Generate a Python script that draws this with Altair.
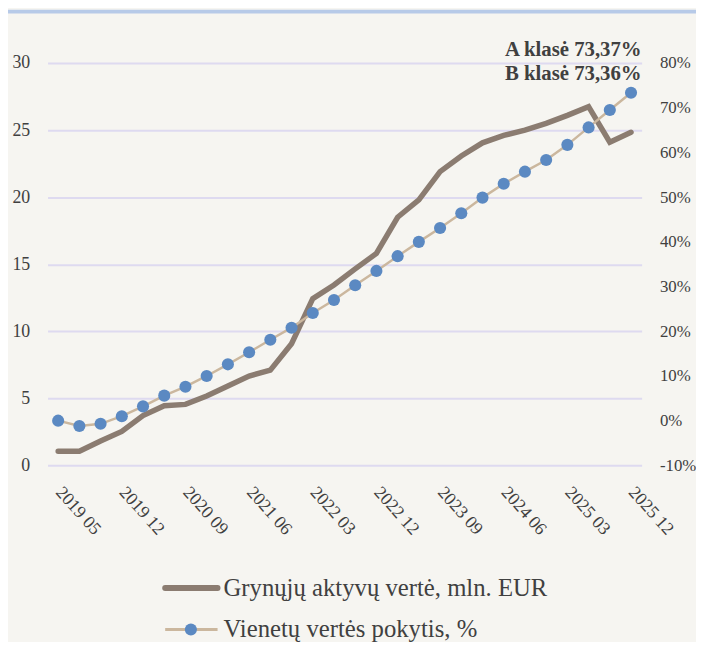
import altair as alt
import pandas as pd

# ---- data ----
periods = ["2019 05", "2019 06", "2019 09", "2019 12",
           "2020 03", "2020 06", "2020 09", "2020 12",
           "2021 03", "2021 06", "2021 09", "2021 12",
           "2022 03", "2022 06", "2022 09", "2022 12",
           "2023 03", "2023 06", "2023 09", "2023 12",
           "2024 03", "2024 06", "2024 09", "2024 12",
           "2025 03", "2025 06", "2025 09", "2025 12"]
tick_labels = ["2019 05", "2019 12", "2020 09", "2021 06", "2022 03",
               "2022 12", "2023 09", "2024 06", "2025 03", "2025 12"]
net_assets = [1.05, 1.05, 1.82, 2.53, 3.71, 4.45, 4.55, 5.18, 5.92, 6.66,
              7.10, 9.07, 12.43, 13.45, 14.65, 15.8, 18.5, 19.8, 21.9, 23.07,
              24.05, 24.6, 25.0, 25.5, 26.1, 26.75, 24.1, 24.84]
unit_change = [0.0, -1.2, -0.7, 1.0, 3.2, 5.6, 7.6, 10.0, 12.6, 15.3,
               18.1, 20.8, 24.1, 27.0, 30.3, 33.5, 36.8, 40.0, 43.1, 46.4,
               49.9, 53.0, 55.7, 58.3, 61.7, 65.6, 69.5, 73.37]
left_ticks = [0, 5, 10, 15, 20, 25, 30]
right_ticks = [-10, 0, 10, 20, 30, 40, 50, 60, 70, 80]
annotation_lines = ["A klasė 73,37%", "B klasė 73,36%"]
legend_labels = ["Grynųjų aktyvų vertė, mln. EUR", "Vienetų vertės pokytis, %"]

# ---- styles ----
BG = "#f6f5f1"
BROWN = "#8b7c71"
TAN = "#cbb79e"
BLUE = "#5b89c2"
GRID = "#dedaf0"
TEXT = "#404040"
TOPLINE = "#b7cae8"
FONT = "Liberation Serif"

W, H = 601, 407

df = pd.DataFrame({"period": periods, "net": net_assets, "pct": unit_change})
one = pd.DataFrame({"k": [0]})

x_axis = alt.Axis(values=tick_labels, labelAngle=48, labelAlign="left",
                  labelBaseline="middle", labelPadding=24, ticks=False,
                  tickSize=0, domain=False, grid=False, title=None,
                  labelFont=FONT, labelFontSize=18, labelColor=TEXT)
x_enc = alt.X("period:O", sort=periods,
              scale=alt.Scale(type="point", padding=0.5), axis=x_axis)

brown = alt.Chart(df).mark_line(color=BROWN, strokeWidth=5.5,
                                strokeCap="round").encode(
    x=x_enc,
    y=alt.Y("net:Q", scale=alt.Scale(domain=[0, 30], nice=False),
            axis=alt.Axis(orient="left", values=left_ticks, title=None,
                          ticks=False, tickSize=0, domain=False, grid=True,
                          gridColor=GRID, gridWidth=2, labelPadding=18,
                          labelFont=FONT, labelFontSize=18, labelColor=TEXT)),
)

tan = alt.Chart(df).mark_line(
    color=TAN, strokeWidth=2.5,
    point=alt.OverlayMarkDef(filled=True, color=BLUE, size=150, opacity=1,
                             strokeWidth=0)).encode(
    x=x_enc,
    y=alt.Y("pct:Q", scale=alt.Scale(domain=[-10, 80], nice=False),
            axis=alt.Axis(orient="right", values=right_ticks, title=None,
                          ticks=False, tickSize=0, domain=False, grid=False,
                          labelExpr="datum.value + '%'", labelPadding=18,
                          labelFont=FONT, labelFontSize=17, labelColor=TEXT)),
)

topline = alt.Chart(one).mark_rule(color=TOPLINE, strokeWidth=4).encode(
    x=alt.value(-43), x2=alt.value(660), y=alt.value(-52))

annot = alt.Chart(one).mark_text(
    text=annotation_lines, align="right", baseline="alphabetic",
    font=FONT, fontSize=21, fontWeight="bold", color=TEXT, lineHeight=24
).encode(x=alt.value(W), y=alt.value(-7))

leg1_line = alt.Chart(one).mark_rule(color=BROWN, strokeWidth=6,
                                     strokeCap="round").encode(
    x=alt.value(119), x2=alt.value(172), y=alt.value(531))
leg1_text = alt.Chart(one).mark_text(
    text=legend_labels[0], align="left", baseline="middle",
    font=FONT, fontSize=25, color=TEXT).encode(x=alt.value(178), y=alt.value(531))
leg2_line = alt.Chart(one).mark_rule(color=TAN, strokeWidth=3).encode(
    x=alt.value(119), x2=alt.value(172), y=alt.value(573))
leg2_dot = alt.Chart(one).mark_point(filled=True, color=BLUE, size=150,
                                     opacity=1).encode(
    x=alt.value(145), y=alt.value(573))
leg2_text = alt.Chart(one).mark_text(
    text=legend_labels[1], align="left", baseline="middle",
    font=FONT, fontSize=25, color=TEXT).encode(x=alt.value(178), y=alt.value(573))

chart = alt.layer(
    topline, brown, tan, annot, leg1_line, leg1_text, leg2_line, leg2_dot, leg2_text
).resolve_scale(y="independent").properties(
    width=W, height=H,
    padding={"left": 40, "top": 52, "right": 55, "bottom": 175},
    autosize=alt.AutoSizeParams(type="none"),
    background=BG,
).configure_view(stroke=None)

chart.save("out.html", embed_options={"renderer": "svg", "actions": False})
